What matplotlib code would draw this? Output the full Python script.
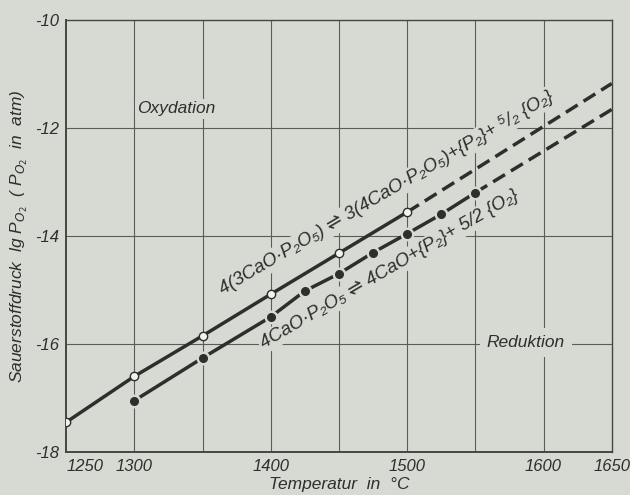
import matplotlib
matplotlib.use('Agg')
import matplotlib.pyplot as plt

# Temperatur in °C, lg p_O2
t_upper = [1250, 1300, 1350, 1400, 1450, 1500]
p_upper = [-17.45, -16.6, -15.85, -15.08, -14.32, -13.56]
t_upper_ext = [1500, 1650]
p_upper_ext = [-13.56, -11.18]

t_lower = [1300, 1350, 1400, 1425, 1450, 1475, 1500, 1525, 1550]
p_lower = [-17.05, -16.26, -15.5, -15.02, -14.7, -14.31, -13.96, -13.6, -13.2]
t_lower_ext = [1550, 1650]
p_lower_ext = [-13.2, -11.66]

x_ticks = [1250, 1300, 1400, 1500, 1600, 1650]
x_grid = [1300, 1350, 1400, 1450, 1500, 1550, 1600]
y_ticks = [-10, -12, -14, -16, -18]
y_grid = [-12, -14, -16]

bg = '#d6dad3'
ink = '#2e2f2d'
fam = ['Liberation Sans', 'DejaVu Sans']

fig = plt.figure(figsize=(6.3, 4.95), dpi=100, facecolor=bg)
ax = fig.add_axes([0.105, 0.087, 0.866, 0.873], facecolor=bg)
ax.set_xlim(1250, 1650)
ax.set_ylim(-18, -10)

for x in x_grid:
    ax.axvline(x, color='#5a5c55', lw=0.8, zorder=1)
for y in y_grid:
    ax.axhline(y, color='#5a5c55', lw=0.8, zorder=1)

# upper line (open circles)
ax.plot(t_upper, p_upper, color=ink, lw=2.5, zorder=3, solid_capstyle='butt')
ax.plot(t_upper_ext, p_upper_ext, color=ink, lw=2.5, dashes=(4, 2), zorder=3)
ax.plot(t_upper, p_upper, 'o', ms=6, mfc='#f2f3ef', mec=ink, mew=1.0, zorder=5)

# lower line (filled dots, small gaps around them)
ax.plot(t_lower, p_lower, color=ink, lw=2.5, zorder=3, solid_capstyle='butt')
ax.plot(t_lower_ext, p_lower_ext, color=ink, lw=2.5, dashes=(4, 2), zorder=3)
ax.plot(t_lower, p_lower, 'o', ms=9, mfc=bg, mec=bg, zorder=4)
ax.plot(t_lower, p_lower, 'o', ms=5.5, mfc=ink, mec=ink, zorder=5)

font = dict(family=fam, style='italic', color=ink)
box = dict(facecolor=bg, edgecolor='none', pad=1.5)

ax.text(1485, -13.2, '4(3CaO·P₂O₅) ⇌ 3(4CaO·P₂O₅)+{P₂}+ ⁵/₂ {O₂}',
        rotation=30.5, ha='center', va='center', fontsize=13.5,
        bbox=box, zorder=6, **font)
ax.text(1487, -14.62, '4CaO·P₂O₅ ⇌ 4CaO+{P₂}+ 5/2 {O₂}',
        rotation=30.5, ha='center', va='center', fontsize=13.5,
        bbox=box, zorder=6, **font)

ax.text(1331, -11.65, 'Oxydation', ha='center', va='center', fontsize=12.5,
        bbox=box, zorder=6, **font)
ax.text(1587, -15.97, 'Reduktion', ha='center', va='center', fontsize=12.5,
        bbox=dict(facecolor=bg, edgecolor='none', pad=5), zorder=6, **font)

ax.set_xticks(x_ticks)
ax.set_xticklabels([str(v) for v in x_ticks], fontsize=12, **font)
ax.get_xticklabels()[0].set_ha('left')
ax.set_yticks(y_ticks)
ax.set_yticklabels([str(v) for v in y_ticks], fontsize=12, **font)
ax.tick_params(length=0, pad=5)

for s in ax.spines.values():
    s.set_color('#45463f')
    s.set_linewidth(1.0)
ax.spines['left'].set_linewidth(1.4)
ax.spines['bottom'].set_linewidth(1.4)

ax.set_xlabel('Temperatur  in  °C', fontsize=12.5, **font)
ax.xaxis.set_label_coords(0.5, -0.076)
ax.xaxis.label.set_va('center')
ax.set_ylabel(r'Sauerstoffdruck  lg P$_{O_2}$  ( P$_{O_2}$  in  atm)',
              fontsize=12.5, **font)
ax.yaxis.set_label_coords(-0.066, 0.5)

fig.savefig('out.png', dpi=100, facecolor=bg)
